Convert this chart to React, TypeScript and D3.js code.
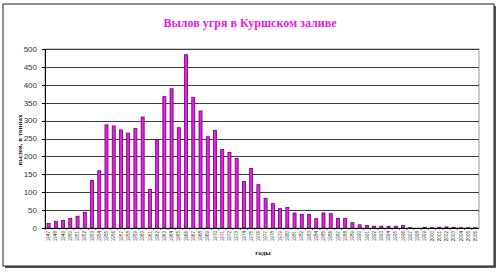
import React from "react";
import * as d3 from "d3";

const years: string[] = d3.range(1947, 2007).map(String);
const catch_t: number[] = [
  13, 19, 21, 27, 33, 44, 133, 160, 288, 285,
  274, 265, 278, 310, 108, 246, 367, 389, 280, 484,
  365, 327, 255, 273, 219, 211, 194, 130, 166, 121,
  83, 68, 54, 57, 42, 38, 38, 26, 42, 40,
  27, 27, 15, 9, 7, 5, 5, 5, 5, 7,
  1, 0.5, 2, 1, 2, 3, 2, 1, 1, 1,
];
const yTicks: number[] = [0, 50, 100, 150, 200, 250, 300, 350, 400, 450, 500];
const title = "Вылов угря в Куршском заливе";
const yLabel = "вылов, в тоннах";
const xLabel = "годы";

export default function App() {
  const W = 500, H = 273;
  const left = 45, right = 479, top = 49, bottom = 228;
  const x = d3.scaleBand<string>().domain(years).range([left, right]).paddingInner(0.58).paddingOuter(0.29);
  const y = d3.scaleLinear().domain([0, 500]).range([bottom, top]);
  const step = x.step();
  return (
    <svg width={W} height={H} style={{ position: "absolute", left: 0, top: 0, background: "#fff" }}>
      <rect x={0} y={0} width={W} height={H} fill="#fff" />
      <rect x={5} y={6} width={491} height={262} fill="#555" />
      <rect x={3} y={4} width={491} height={262} fill="#fff" stroke="#222" strokeWidth={1} />
      <text x={250} y={27} textAnchor="middle" fontFamily="Liberation Serif" fontWeight="bold" fontSize={12} fill="#E619E6">{title}</text>
      <rect x={left} y={top} width={right - left} height={bottom - top} fill="none" stroke="#999" strokeWidth={1} />
      {yTicks.map((t) => (
        <g key={t}>
          {t > 0 && <line x1={left} x2={right} y1={Math.round(y(t)) + 0.5} y2={Math.round(y(t)) + 0.5} stroke="#3a3a3a" strokeWidth={1} />}
          <text x={37} y={y(t)} dy="0.35em" textAnchor="end" fontFamily="Liberation Sans" fontSize={8} fill="#333">{t}</text>
          <line x1={left - 3} x2={left} y1={Math.round(y(t)) + 0.5} y2={Math.round(y(t)) + 0.5} stroke="#000" />
        </g>
      ))}
      {years.map((yr, i) => {
        const v = catch_t[i];
        const bx = x(yr)!;
        const h = bottom - y(v);
        return (
          <g key={yr}>
            {h > 0.3 && (
              <rect x={bx} y={y(v)} width={x.bandwidth()} height={h} fill="#E61EE6" stroke="#6A006A" strokeWidth={0.8} />
            )}
            <text transform={`translate(${bx + x.bandwidth() / 2},231) rotate(-90)`} dy="0.35em" textAnchor="end" fontFamily="Liberation Sans" fontSize={4.6} fill="#333">{yr}</text>
          </g>
        );
      })}
      {years.map((yr, i) => (
        <line key={"t" + yr} x1={left + i * step} x2={left + i * step} y1={bottom} y2={bottom + 2} stroke="#000" strokeWidth={0.6} />
      ))}
      <line x1={left + 0.5} x2={left + 0.5} y1={top} y2={bottom} stroke="#000" />
      <line x1={left} x2={right} y1={bottom + 0.5} y2={bottom + 0.5} stroke="#000" />
      <text transform="translate(20,140) rotate(-90)" dy="0.35em" textAnchor="middle" fontFamily="Liberation Serif" fontWeight="bold" fontSize={7} fill="#222">{yLabel}</text>
      <text x={263} y={253} dy="0.35em" textAnchor="middle" fontFamily="Liberation Serif" fontWeight="bold" fontSize={7} fill="#222">{xLabel}</text>
    </svg>
  );
}
